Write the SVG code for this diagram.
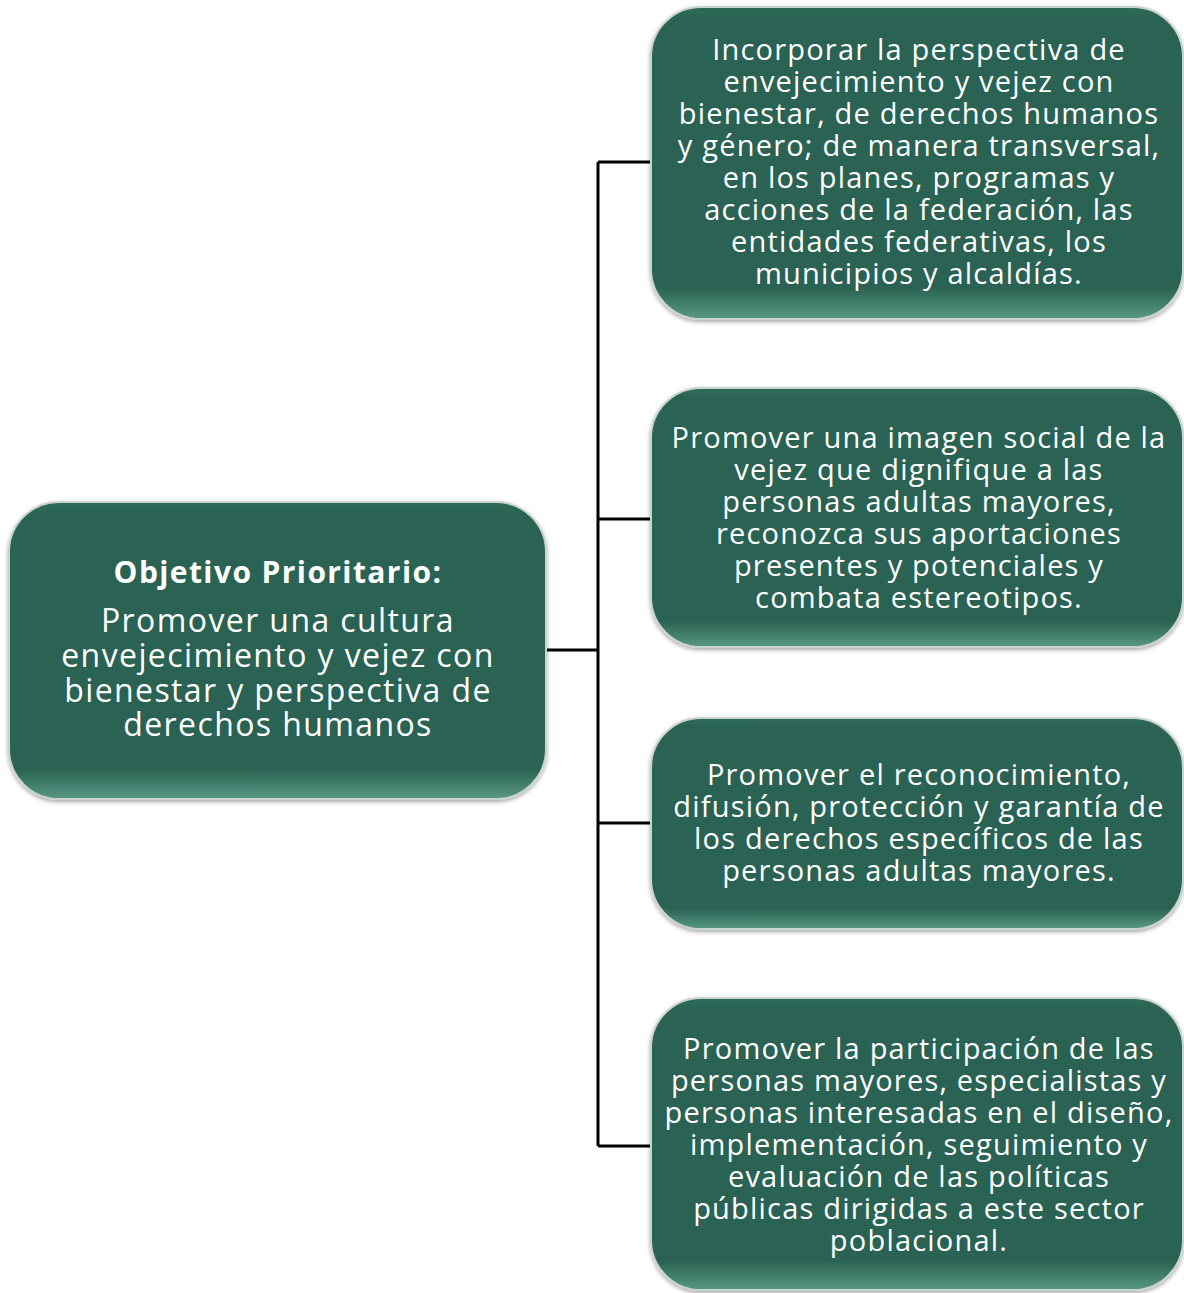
<svg xmlns="http://www.w3.org/2000/svg" width="1184" height="1293" viewBox="0 0 1184 1293">
<style>
.box{fill:url(#g);stroke:#c9d3d0;stroke-width:2}
.t{font-family:"Open Sans","Liberation Sans",sans-serif;font-size:29px;letter-spacing:1.2px;fill:#ffffff;text-anchor:middle}
.tl{font-family:"Open Sans","Liberation Sans",sans-serif;font-size:32px;letter-spacing:1.4px;fill:#ffffff;text-anchor:middle}
.tb{font-weight:bold;font-size:30px}
.c{stroke:#000;stroke-width:3;fill:none}
</style>
<defs>
<linearGradient id="g" x1="0" y1="0" x2="0" y2="1">
<stop offset="0" stop-color="#2f6a5a"/>
<stop offset="0.05" stop-color="#2a6252"/>
<stop offset="0.9" stop-color="#2a6252"/>
<stop offset="1" stop-color="#5a9886"/>
</linearGradient>
<filter id="sh" x="-5%" y="-5%" width="110%" height="115%">
<feDropShadow dx="0" dy="2" stdDeviation="2" flood-color="#000" flood-opacity="0.35"/>
</filter>
</defs>
<rect width="1184" height="1293" fill="#ffffff"/>
<g id="connectors">
<path class="c" d="M598 162V1146M546 650H598M598 162H651M598 519H651M598 823H651M598 1146H651"/>
</g>
<g id="node-main">
<rect class="box" filter="url(#sh)" x="9" y="502" width="537" height="297" rx="50"/>
<text class="tl tb" x="278" y="583">Objetivo Prioritario:</text>
<text class="tl" x="278" y="632">Promover una cultura</text>
<text class="tl" x="278" y="667">envejecimiento y vejez con</text>
<text class="tl" x="278" y="702">bienestar y perspectiva de</text>
<text class="tl" x="278" y="736">derechos humanos</text>
</g>
<g id="node-1">
<rect class="box" filter="url(#sh)" x="651" y="7" width="532" height="312" rx="50"/>
<text class="t" x="919" y="60">Incorporar la perspectiva de</text>
<text class="t" x="919" y="92">envejecimiento y vejez con</text>
<text class="t" x="919" y="124">bienestar, de derechos humanos</text>
<text class="t" x="919" y="156">y género; de manera transversal,</text>
<text class="t" x="919" y="188">en los planes, programas y</text>
<text class="t" x="919" y="220">acciones de la federación, las</text>
<text class="t" x="919" y="252">entidades federativas, los</text>
<text class="t" x="919" y="284">municipios y alcaldías.</text>
</g>
<g id="node-2">
<rect class="box" filter="url(#sh)" x="651" y="388" width="532" height="259" rx="50"/>
<text class="t" x="919" y="448">Promover una imagen social de la</text>
<text class="t" x="919" y="480">vejez que dignifique a las</text>
<text class="t" x="919" y="512">personas adultas mayores,</text>
<text class="t" x="919" y="544">reconozca sus aportaciones</text>
<text class="t" x="919" y="576">presentes y potenciales y</text>
<text class="t" x="919" y="608">combata estereotipos.</text>
</g>
<g id="node-3">
<rect class="box" filter="url(#sh)" x="651" y="718" width="532" height="211" rx="50"/>
<text class="t" x="919" y="785">Promover el reconocimiento,</text>
<text class="t" x="919" y="817">difusión, protección y garantía de</text>
<text class="t" x="919" y="849">los derechos específicos de las</text>
<text class="t" x="919" y="881">personas adultas mayores.</text>
</g>
<g id="node-4">
<rect class="box" filter="url(#sh)" x="651" y="998" width="532" height="292" rx="50"/>
<text class="t" x="919" y="1059">Promover la participación de las</text>
<text class="t" x="919" y="1091">personas mayores, especialistas y</text>
<text class="t" x="919" y="1123">personas interesadas en el diseño,</text>
<text class="t" x="919" y="1155">implementación, seguimiento y</text>
<text class="t" x="919" y="1187">evaluación de las políticas</text>
<text class="t" x="919" y="1219">públicas dirigidas a este sector</text>
<text class="t" x="919" y="1251">poblacional.</text>
</g>
</svg>
